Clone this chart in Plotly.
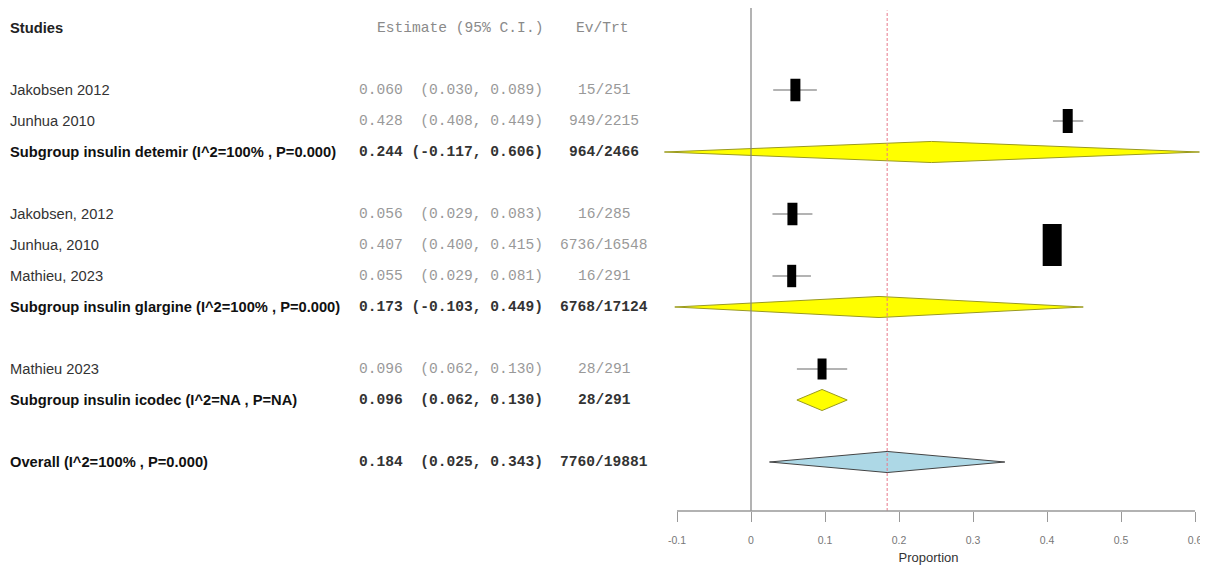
import plotly.graph_objects as go

# ---------------- data ----------------
study_names = ["Jakobsen 2012", "Junhua 2010", "Jakobsen, 2012", "Junhua, 2010", "Mathieu, 2023", "Mathieu 2023"]
study_est = [0.060, 0.428, 0.056, 0.407, 0.055, 0.096]
study_lo = [0.030, 0.408, 0.029, 0.400, 0.029, 0.062]
study_hi = [0.089, 0.449, 0.083, 0.415, 0.081, 0.130]
study_evtrt = ["15/251", "949/2215", "16/285", "6736/16548", "16/291", "28/291"]

sum_names = ["Subgroup insulin detemir (I^2=100% , P=0.000)",
             "Subgroup insulin glargine (I^2=100% , P=0.000)",
             "Subgroup insulin icodec (I^2=NA , P=NA)",
             "Overall (I^2=100% , P=0.000)"]
sum_est = [0.244, 0.173, 0.096, 0.184]
sum_lo = [-0.117, -0.103, 0.062, 0.025]
sum_hi = [0.606, 0.449, 0.130, 0.343]
sum_evtrt = ["964/2466", "6768/17124", "28/291", "7760/19881"]

tick_vals = [-0.1, 0, 0.1, 0.2, 0.3, 0.4, 0.5, 0.6]
tick_text = ["-0.1", "0", "0.1", "0.2", "0.3", "0.4", "0.5", "0.6"]
overall_ref = 0.184

# ---------------- layout / style ----------------
# page body has an 8px margin, so the figure is shifted by 8px and made smaller
OFF = 8
W, H = 1208 - OFF, 573 - 2 * OFF
study_rows = [2, 3, 6, 7, 8, 11]
sum_rows = [4, 9, 12, 14]
box_w = [10, 10, 10, 19, 9, 9]     # px
box_h = [16, 17, 16, 30, 16, 15]   # px
diam_half = 0.34                   # rows
sum_fill = ["#FFFF00", "#FFFF00", "#FFFF00", "#ADD8E6"]
sum_edge = ["#9A9A20", "#9A9A20", "#9A9A20", "#444444"]

SANS = "Liberation Sans, Arial, sans-serif"
MONO = "Liberation Mono, Courier New, monospace"
NAME_SIZE = 14.7
MONO_SIZE = 14.6

def px(x):
    return (x - OFF) / W

def fmt_ci(e, lo, hi):
    s = f"{e:.3f} {('(' + format(lo, '.3f')):>7}, {hi:.3f})"
    return s.replace(" ", "\u00a0")

fig = go.Figure()

# CI lines for studies
for e, lo, hi, r in zip(study_est, study_lo, study_hi, study_rows):
    fig.add_trace(go.Scatter(x=[lo, hi], y=[r, r], mode="lines",
                             line=dict(color="#9a9a9a", width=1.5),
                             hoverinfo="skip", showlegend=False))
# boxes
for e, r, bw, bh in zip(study_est, study_rows, box_w, box_h):
    fig.add_trace(go.Scatter(x=[e], y=[r], mode="markers",
                             marker=dict(symbol="line-ns", size=bh,
                                         line=dict(width=bw, color="black")),
                             hoverinfo="skip", showlegend=False))
# summary diamonds
for e, lo, hi, r, fc, ec in zip(sum_est, sum_lo, sum_hi, sum_rows, sum_fill, sum_edge):
    fig.add_trace(go.Scatter(x=[lo, e, hi, e, lo],
                             y=[r, r - diam_half, r, r + diam_half, r],
                             mode="lines", fill="toself", fillcolor=fc,
                             line=dict(color=ec, width=1),
                             hoverinfo="skip", showlegend=False))

NAME_X = px(10 - 2)
EST_X = px(543 + 2)
EV_X = px(604)

ann = []
ann.append(dict(x=NAME_X, y=0, text="<b>Studies</b>", xanchor="left",
                font=dict(family=SANS, size=NAME_SIZE, color="#222")))
ann.append(dict(x=EST_X, y=0, text="Estimate\u00a0(95%\u00a0C.I.)", xanchor="right",
                font=dict(family=MONO, size=MONO_SIZE, color="#8a8a8a")))
ann.append(dict(x=px(602), y=0, text="Ev/Trt", xanchor="center",
                font=dict(family=MONO, size=MONO_SIZE, color="#8a8a8a")))
for n, e, lo, hi, ev, r in zip(study_names, study_est, study_lo, study_hi, study_evtrt, study_rows):
    ann.append(dict(x=NAME_X, y=r, text=n, xanchor="left",
                    font=dict(family=SANS, size=NAME_SIZE, color="#333")))
    ann.append(dict(x=EST_X, y=r, text=fmt_ci(e, lo, hi), xanchor="right",
                    font=dict(family=MONO, size=MONO_SIZE, color="#999")))
    ann.append(dict(x=EV_X, y=r, text=ev, xanchor="center",
                    font=dict(family=MONO, size=MONO_SIZE, color="#999")))
for n, e, lo, hi, ev, r in zip(sum_names, sum_est, sum_lo, sum_hi, sum_evtrt, sum_rows):
    ann.append(dict(x=NAME_X, y=r, text=f"<b>{n}</b>", xanchor="left",
                    font=dict(family=SANS, size=NAME_SIZE, color="#111")))
    ann.append(dict(x=EST_X, y=r, text=f"<b>{fmt_ci(e, lo, hi)}</b>", xanchor="right",
                    font=dict(family=MONO, size=MONO_SIZE, color="#333")))
    ann.append(dict(x=EV_X, y=r, text=f"<b>{ev}</b>", xanchor="center",
                    font=dict(family=MONO, size=MONO_SIZE, color="#333")))
for a in ann:
    a.update(xref="paper", yref="y", showarrow=False, yanchor="middle")

shapes = [
    dict(type="line", xref="x", yref="paper", x0=0, x1=0, y0=0, y1=1.0,
         line=dict(color="#808080", width=1.2)),
    dict(type="line", xref="x", yref="paper", x0=overall_ref, x1=overall_ref, y0=0, y1=0.995,
         line=dict(color="#e8788a", width=1, dash="3px,2px")),
    dict(type="line", xref="x", yref="paper", x0=tick_vals[0], x1=tick_vals[-1], y0=0, y1=0,
         line=dict(color="#999", width=1.5)),
]

# pixel mapping: screen x = 751 + 740 * value ; axis line at screen y 511, row 0 at screen y 28
X0_SCR = 751
PX_PER_UNIT = 740
xmin, xmax = -0.13, 0.61
d0 = (X0_SCR + PX_PER_UNIT * xmin - OFF) / W
d1 = (X0_SCR + PX_PER_UNIT * xmax - OFF) / W
AXIS_Y = 511 - OFF
ROW0_Y = 28 - OFF
ROW_PX = 31
rtop = -ROW0_Y / ROW_PX
rbot = rtop + AXIS_Y / ROW_PX

fig.update_layout(
    width=W, height=H,
    margin=dict(l=0, r=0, t=0, b=H - AXIS_Y),
    paper_bgcolor="white", plot_bgcolor="white",
    annotations=ann, shapes=shapes,
    xaxis=dict(domain=[d0, d1], range=[xmin, xmax],
               showgrid=False, zeroline=False, showline=False,
               tickvals=tick_vals, ticktext=tick_text,
               ticks="outside", ticklen=10, tickcolor="#999", tickwidth=1.2,
               ticklabelstandoff=9, ticklabeloverflow="allow",
               tickfont=dict(family=SANS, size=10.5, color="#777"),
               title=dict(text="Proportion", standoff=11,
                          font=dict(family=SANS, size=13, color="#333"))),
    yaxis=dict(range=[rbot, rtop], visible=False, showgrid=False, zeroline=False),
)

fig.write_html("out.html")
